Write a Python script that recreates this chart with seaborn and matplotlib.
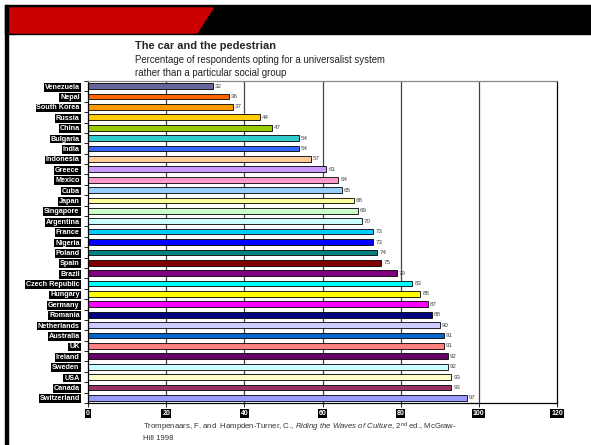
import matplotlib
matplotlib.use("Agg")
import matplotlib.pyplot as plt
import matplotlib.patches as mpatches
import seaborn as sns
import numpy as np

countries = ["Venezuela", "Nepal", "South Korea", "Russia", "China", "Bulgaria", "India",
             "Indonesia", "Greece", "Mexico", "Cuba", "Japan", "Singapore", "Argentina",
             "France", "Nigeria", "Poland", "Spain", "Brazil", "Czech Republic", "Hungary",
             "Germany", "Romania", "Netherlands", "Australia", "UK", "Ireland", "Sweden",
             "USA", "Canada", "Switzerland"]
values = [32, 36, 37, 44, 47, 54, 54, 57, 61, 64, 65, 68, 69, 70, 73, 73, 74, 75, 79,
          83, 85, 87, 88, 90, 91, 91, 92, 92, 93, 93, 97]
colors = ["#666699", "#FF6600", "#FF9900", "#FFCC00", "#99CC00", "#33CCCC", "#3366FF",
          "#FFCC99", "#CC99FF", "#FF99CC", "#99CCFF", "#FFFF99", "#CCFFCC", "#CCFFFF",
          "#00CCFF", "#0000FF", "#008080", "#800000", "#800080", "#00FFFF", "#FFFF00",
          "#FF00FF", "#000080", "#CCCCFF", "#0066CC", "#FF8080", "#660066", "#CCFFFF",
          "#FFFFCC", "#993366", "#9999FF"]
xticks = [0, 20, 40, 60, 80, 100, 120]

sns.set_style("white")
plt.rcParams["font.family"] = ["Liberation Sans", "DejaVu Sans"]
plt.rcParams["mathtext.fontset"] = "custom"
plt.rcParams["mathtext.rm"] = "Liberation Sans"
plt.rcParams["mathtext.it"] = "Liberation Sans:italic"

W, H = 591, 445
fig = plt.figure(figsize=(W / 100, H / 100), dpi=100)

# header band and left border
fig.patches.append(mpatches.Rectangle((5 / W, 1 - 34 / H), 1, 29 / H, transform=fig.transFigure,
                                      color="black", zorder=0))
fig.patches.append(mpatches.Polygon([(7 / W, 1 - 8 / H), (213 / W, 1 - 8 / H),
                                     (197 / W, 1 - 33 / H), (7 / W, 1 - 33 / H)],
                                    closed=True, transform=fig.transFigure, color="#CC0000", zorder=1))
fig.patches.append(mpatches.Rectangle((5 / W, 0), 2.5 / W, 1 - 5 / H, transform=fig.transFigure,
                                      color="black", zorder=1))

ax = fig.add_axes([88 / W, 1 - 403 / H, (557 - 88) / W, (403 - 81) / H])
sns.barplot(x=values, y=countries, hue=countries, palette=colors, legend=False, saturation=1,
            orient="h", width=0.55, edgecolor="black", linewidth=0.6, ax=ax)

for c in ax.containers:
    ax.bar_label(c, padding=1.5, fontsize=4.5, color="#444444")

ax.set_xlim(0, 120)
ax.set_ylim(len(countries) - 0.5, -0.5)
ax.set_xticks(xticks)
ax.set_xticklabels([str(t) for t in xticks])
for t in xticks[1:-1]:
    ax.axvline(t, color="#444444", lw=0.9, zorder=0)

ax.set_yticks(np.arange(len(countries) + 1) - 0.5, minor=True)
ax.tick_params(axis="y", which="major", length=0, pad=6, labelsize=5.2, labelcolor="white")
ax.tick_params(axis="y", which="minor", length=3, width=0.6, color="black", left=True)
ax.tick_params(axis="x", which="major", length=3, width=0.6, color="black", bottom=True,
               pad=2, labelsize=5.0, labelcolor="white")
for lab in ax.get_yticklabels() + ax.get_xticklabels():
    lab.set_bbox(dict(facecolor="black", edgecolor="none", pad=0.6))
    lab.set_fontweight("bold")

for side in ["left", "right", "bottom"]:
    ax.spines[side].set_color("black")
    ax.spines[side].set_linewidth(0.9)
ax.spines["top"].set_color("#888888")
ax.spines["top"].set_linewidth(0.9)
ax.set_xlabel("")
ax.set_ylabel("")

fig.text(135 / W, 1 - 49 / H, "The car and the pedestrian", fontsize=7.9, fontweight="bold",
         va="baseline")
fig.text(135 / W, 1 - 63 / H, "Percentage of respondents opting for a universalist system",
         fontsize=6.9, va="baseline", color="#222222")
fig.text(135 / W, 1 - 76 / H, "rather than a particular social group",
         fontsize=6.9, va="baseline", color="#222222")

fig.text(143 / W, 1 - 429 / H,
         r"Trompenaars, F. and  Hampden-Turner, C., $\it{Riding\ the\ Waves\ of\ Culture}$, 2$^{\rm nd}$ ed., McGraw-",
         fontsize=5.6, va="baseline", color="#333333")
fig.text(143 / W, 1 - 440 / H, "Hill 1998", fontsize=5.6, va="baseline", color="#333333")

fig.savefig("out.png", dpi=100)
